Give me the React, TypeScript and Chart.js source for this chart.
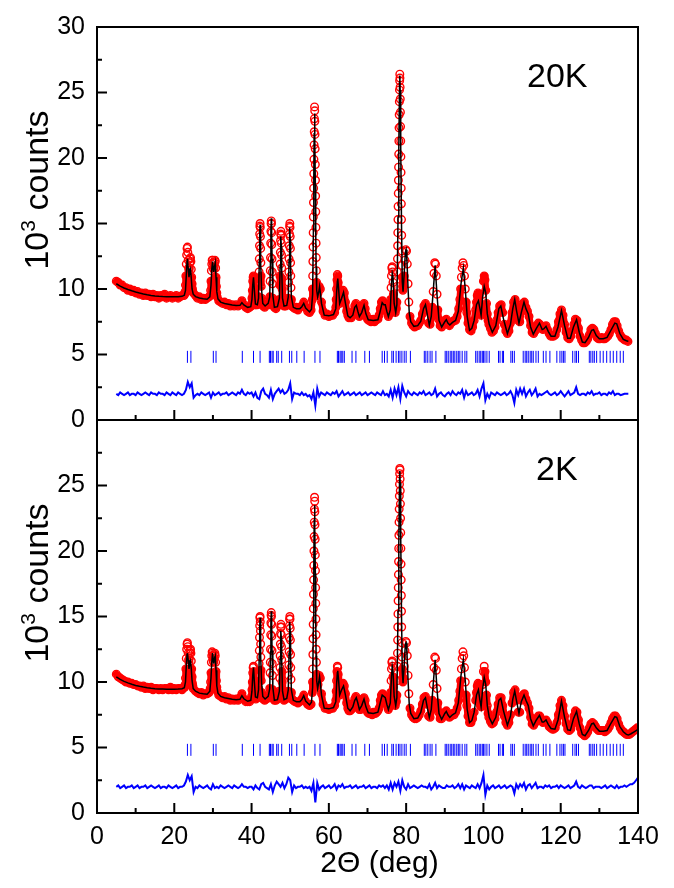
import React, { useEffect, useRef } from 'react';
import { Chart, registerables } from 'chart.js';

Chart.register(...registerables);

const FONT = "'Liberation Sans', Arial, Helvetica, sans-serif";

// ---------- observed points (red circles), shared 2-theta positions ----------
const obsTheta = [
  5.0, 5.5, 6.0, 6.5, 7.0, 7.5, 8.0, 8.5, 9.0, 9.5, 10.0, 10.5, 11.0, 11.5, 12.0, 12.5, 13.0, 13.5, 14.0, 14.5, 15.0, 15.5, 16.0, 16.5, 17.0, 17.5, 18.0, 18.5, 19.0, 19.5, 20.0, 20.5, 21.0, 21.5, 22.0, 22.5,
  22.7, 22.8, 22.9, 23.0, 23.1, 23.2, 23.3, 23.4, 23.5, 23.6, 23.7, 23.8, 23.9, 24.0, 24.1, 24.2, 24.3, 24.4, 24.5, 24.6, 24.7, 24.8, 24.9,
  25.5, 26.0, 26.5, 27.0, 27.5, 28.0, 28.5, 29.0,
  29.3, 29.4, 29.5, 29.6, 29.7, 29.8, 29.9, 30.0, 30.1, 30.2, 30.3, 30.4, 30.5, 30.6, 30.7, 30.8, 30.9, 31.0, 31.1,
  31.5, 32.0, 32.5, 33.0, 33.5, 34.0, 34.5, 35.0, 35.5, 36.0, 36.5, 37.0, 37.5, 38.0, 38.5, 39.0, 39.5,
  39.9, 40.0, 40.1, 40.2, 40.3, 40.4, 40.5, 40.6, 40.7, 40.8, 40.9, 41.0, 41.1,
  41.5,
  41.7, 41.8, 41.9, 41.95, 42.0, 42.05, 42.1, 42.15, 42.2, 42.25, 42.3, 42.35, 42.4, 42.45, 42.5, 42.6, 42.7,
  43.0, 43.4, 43.8, 44.2,
  44.6, 44.7, 44.8, 44.85, 44.9, 44.95, 45.0, 45.05, 45.1, 45.15, 45.2, 45.25, 45.3, 45.35, 45.4, 45.5, 45.6,
  45.9, 46.3, 46.7,
  47.1, 47.2, 47.3, 47.35, 47.4, 47.45, 47.5, 47.55, 47.6, 47.65, 47.7, 47.75, 47.8, 47.85, 47.9, 48.0, 48.1,
  48.4, 48.8, 49.1,
  49.4, 49.5, 49.6, 49.65, 49.7, 49.75, 49.8, 49.85, 49.9, 49.95, 50.0, 50.05, 50.1, 50.15, 50.2, 50.3, 50.4,
  50.8, 51.2, 51.6, 52.0, 52.5, 53.0, 53.5, 54.0, 54.5, 55.0, 55.4,
  55.74, 55.78, 55.82, 55.86, 55.90, 55.94, 55.98, 56.02, 56.06, 56.10, 56.14, 56.18, 56.22, 56.26, 56.30, 56.34, 56.38, 56.42, 56.46, 56.50, 56.54, 56.58, 56.62, 56.66, 56.70, 56.74, 56.78, 56.84, 56.90, 56.98,
  57.2, 57.5, 57.8, 58.1, 58.5, 59.0, 59.5, 60.0, 60.5, 61.0, 61.5,
  61.8, 61.9, 62.0, 62.1, 62.2, 62.3, 62.4, 62.5, 62.6, 62.7, 62.8,
  63.1, 63.4, 63.7, 64.0, 64.3, 64.6, 64.9, 65.2, 65.5, 65.8, 66.1, 66.4, 66.7, 67.0, 67.3, 67.6, 67.9, 68.2, 68.5, 68.8, 69.1, 69.4, 69.7, 70.0, 70.3, 70.6, 70.9, 71.2, 71.5, 71.8, 72.1, 72.4, 72.7, 73.0, 73.3, 73.6, 73.9, 74.2, 74.5, 74.8, 75.1, 75.4, 75.7,
  75.9, 76.0, 76.1, 76.2, 76.3, 76.4, 76.5, 76.6, 76.7, 76.8, 76.9,
  77.2, 77.45,
  77.60, 77.66, 77.72, 77.76, 77.80, 77.84, 77.88, 77.92, 77.96, 78.00, 78.04, 78.08, 78.12, 78.16, 78.20, 78.24, 78.28, 78.32, 78.36, 78.40, 78.44, 78.48, 78.52, 78.56, 78.60, 78.64, 78.68, 78.72, 78.76, 78.80, 78.85, 78.90, 78.95, 79.00, 79.08, 79.16,
  79.3, 79.5, 79.7, 79.9, 80.1, 80.3, 80.5, 80.7,
  81.0, 81.4, 81.8, 82.2, 82.6, 83.0, 83.4, 83.8, 84.2, 84.6, 85.0, 85.4, 85.8, 86.2, 86.6,
  86.8, 87.0, 87.2, 87.4, 87.6, 87.8, 88.0, 88.2, 88.4,
  88.8, 89.2, 89.6, 90.0, 90.4, 90.8, 91.2, 91.6, 92.0, 92.4, 92.8, 93.2, 93.6,
  93.9, 94.1, 94.3, 94.5, 94.7, 94.9, 95.1, 95.3, 95.5, 95.7,
  96.0, 96.4, 96.8, 97.2, 97.6, 98.0,
  98.2, 98.4, 98.6, 98.8, 99.0, 99.2, 99.4, 99.6, 99.8, 100.0, 100.2, 100.4, 100.6, 100.8, 101.0, 101.2, 101.4,
  101.8, 102.2, 102.6, 103.0, 103.4, 103.8, 104.2, 104.6, 105.0, 105.4,
  105.8, 106.2, 106.6, 107.0, 107.4, 107.8, 108.2, 108.6, 109.0, 109.4,
  109.8, 110.2, 110.6, 111.0, 111.4, 111.8, 112.2, 112.6, 113.0, 113.4,
  113.8, 114.2, 114.6, 115.0, 115.4, 115.8, 116.2, 116.6, 117.0, 117.4,
  117.8, 118.2, 118.6, 119.0, 119.4, 119.8, 120.2, 120.6, 121.0, 121.4,
  121.8, 122.2, 122.6, 123.0, 123.4, 123.8, 124.2, 124.6, 125.0, 125.4,
  125.8, 126.2, 126.6, 127.0, 127.4, 127.8, 128.2, 128.6, 129.0, 129.4,
  129.8, 130.2, 130.6, 131.0, 131.4, 131.8, 132.2, 132.6, 133.0, 133.4,
  133.8, 134.2, 134.6, 135.0, 135.4, 135.8, 136.2, 136.6, 137.0, 137.4,
  137.8, 138.2, 138.6, 139.0, 139.4, 139.8,
];

const obs20K = [
  10.6, 10.5, 10.3, 10.3, 10.1, 10.1, 9.9, 10.0, 9.8, 9.9, 9.7, 9.8, 9.6, 9.7, 9.5, 9.7, 9.5, 9.6, 9.4, 9.6, 9.4, 9.5, 9.3, 9.5, 9.4, 9.6, 9.3, 9.4, 9.5, 9.3, 9.4, 9.5, 9.3, 9.4, 9.5, 9.5,
  9.6, 9.8, 10.3, 11.0, 11.9, 12.6, 13.1, 13.2, 12.8, 12.2, 11.6, 11.4, 11.6, 12.0, 12.3, 12.4, 12.1, 11.5, 10.9, 10.4, 10.0, 9.8, 9.7,
  9.5, 9.3, 9.4, 9.2, 9.3, 9.2, 9.3, 9.4,
  9.5, 9.9, 10.6, 11.4, 11.9, 12.2, 12.2, 12.0, 11.6, 11.5, 11.7, 12.0, 12.2, 12.1, 11.6, 10.9, 10.2, 9.7, 9.4,
  9.1, 9.0, 8.9, 9.0, 8.8, 8.9, 8.7, 8.8, 8.7, 8.8, 8.7, 8.8, 9.1, 8.8, 8.6, 8.5, 8.6,
  8.7, 8.9, 9.3, 9.9, 10.6, 10.9, 11.0, 10.6, 10.0, 9.4, 9.0, 8.8, 8.8,
  8.8,
  8.9, 9.4, 10.5, 11.3, 12.3, 13.3, 14.2, 14.8, 15.0, 14.7, 14.0, 13.1, 12.0, 11.0, 10.2, 9.3, 8.9,
  8.7, 8.6, 8.8, 8.9,
  8.8, 9.4, 10.6, 11.4, 12.4, 13.5, 14.4, 15.0, 15.2, 15.0, 14.3, 13.4, 12.3, 11.3, 10.4, 9.3, 8.8,
  8.6, 8.5, 8.7,
  8.8, 9.2, 10.3, 11.0, 11.9, 12.8, 13.7, 14.2, 14.4, 14.1, 13.5, 12.6, 11.6, 10.8, 10.0, 9.2, 8.8,
  8.7, 8.7, 8.8,
  8.8, 9.3, 10.5, 11.3, 12.3, 13.3, 14.2, 14.8, 15.0, 14.7, 14.0, 13.1, 12.0, 11.0, 10.1, 9.2, 8.7,
  8.6, 8.5, 8.6, 8.4, 8.6, 8.7, 9.0, 8.6, 8.3, 8.2, 8.4,
  9.2, 10.0, 11.0, 12.1, 13.2, 14.3, 15.5, 16.6, 17.7, 18.8, 19.9, 21.0, 22.0, 23.0, 23.9, 23.6, 22.8, 21.8, 20.7, 19.5, 18.3, 17.1, 15.9, 14.7, 13.5, 12.4, 11.4, 10.5, 9.9, 9.5,
  9.7, 10.2, 10.0, 9.0, 8.3, 8.0, 8.1, 7.9, 8.0, 8.0, 8.2,
  8.6, 9.2, 10.0, 10.7, 11.1, 11.0, 10.5, 9.8, 9.2, 8.9, 8.9,
  9.3, 9.6, 9.9, 9.7, 9.0, 8.3, 8.0, 7.8, 7.9, 7.8, 8.0, 8.3, 8.7, 8.9, 8.6, 8.1, 7.9, 8.0, 8.3, 8.7, 8.9, 8.5, 8.0, 7.7, 7.6, 7.7, 7.5, 7.6, 7.7, 7.5, 7.6, 7.7, 7.7, 8.0, 8.5, 9.0, 9.1, 8.9, 8.9, 8.6, 8.2, 7.9, 8.1,
  8.5, 9.2, 10.1, 11.0, 11.6, 11.7, 11.3, 10.5, 9.6, 8.9, 8.5,
  8.2, 8.5,
  9.0, 10.2, 11.3, 12.3, 13.3, 14.3, 15.3, 16.3, 17.3, 18.3, 19.3, 20.3, 21.3, 22.3, 23.3, 24.3, 25.2, 25.9, 26.4, 26.1, 25.4, 24.5, 23.5, 22.4, 21.3, 20.1, 18.9, 17.7, 16.5, 15.3, 14.1, 12.9, 11.8, 10.9, 10.2, 9.9,
  10.2, 11.0, 12.2, 13.0, 12.9, 11.9, 10.4, 9.0,
  7.9, 7.4, 7.2, 7.1, 7.2, 7.2, 7.4, 7.6, 8.1, 8.7, 8.9, 8.4, 7.4, 7.3, 7.9,
  8.6, 9.8, 11.2, 12.0, 11.9, 11.0, 9.6, 8.4, 7.7,
  7.2, 7.1, 7.3, 7.6, 7.7, 7.4, 7.2, 7.4, 7.5, 7.6, 7.6, 7.9, 8.5,
  9.2, 10.0, 10.9, 11.6, 12.0, 11.8, 11.0, 10.0, 9.0, 8.2,
  7.4, 6.9, 6.8, 7.1, 7.6, 8.4,
  9.0, 9.5, 9.7, 9.5, 8.8, 8.1, 8.0, 8.6, 9.6, 10.6, 11.0, 10.7, 9.9, 8.9, 8.1, 7.6, 7.3,
  7.0, 6.7, 6.8, 7.1, 7.6, 8.2, 8.7, 8.8, 8.2, 7.3,
  6.8, 6.6, 6.8, 7.4, 8.2, 9.0, 9.2, 8.4, 7.6, 7.5,
  8.3, 8.9, 9.0, 8.6, 8.3, 7.9, 7.2, 6.7, 6.6, 6.8,
  7.2, 7.4, 7.3, 7.0, 6.9, 7.1, 7.2, 6.9, 6.6, 6.4,
  6.4, 6.4, 6.5, 6.9, 7.5, 8.1, 8.4, 8.0, 7.3, 6.7,
  6.3, 6.2, 6.4, 6.8, 7.3, 7.7, 7.6, 7.0, 6.4, 6.1,
  5.9, 5.9, 6.0, 6.2, 6.5, 6.9, 7.0, 6.9, 6.6, 6.3,
  6.2, 6.2, 6.3, 6.2, 6.2, 6.3, 6.4, 6.6, 6.9, 7.3,
  7.5, 7.5, 7.2, 6.8, 6.5, 6.3, 6.2, 6.1, 6.1, 6.0,
  null, null, null, null, null, null,
];

const obs2K = [
  10.6, 10.4, 10.3, 10.2, 10.1, 10.0, 10.0, 9.9, 9.9, 9.8, 9.8, 9.7, 9.7, 9.6, 9.7, 9.5, 9.6, 9.5, 9.6, 9.4, 9.5, 9.5, 9.4, 9.5, 9.4, 9.5, 9.5, 9.4, 9.6, 9.4, 9.5, 9.4, 9.5, 9.5, 9.4, 9.6,
  9.6, 9.8, 10.3, 11.0, 11.8, 12.5, 12.9, 13.0, 12.7, 12.2, 11.7, 11.5, 11.8, 12.2, 12.4, 12.5, 12.2, 11.6, 11.0, 10.4, 9.9, 9.7, 9.5,
  9.3, 9.2, 9.1, 9.2, 9.0, 9.1, 9.1, 9.2,
  9.5, 10.0, 10.7, 11.5, 12.0, 12.3, 12.2, 12.0, 11.6, 11.5, 11.8, 12.1, 12.2, 12.0, 11.5, 10.8, 10.1, 9.6, 9.3,
  9.0, 8.9, 8.8, 8.9, 8.7, 8.8, 8.6, 8.7, 8.6, 8.7, 8.6, 8.8, 9.1, 8.7, 8.5, 8.5, 8.5,
  8.7, 8.9, 9.4, 10.0, 10.7, 11.1, 11.2, 10.8, 10.1, 9.5, 9.0, 8.8, 8.7,
  8.8,
  8.9, 9.5, 10.6, 11.4, 12.4, 13.4, 14.3, 14.9, 15.0, 14.6, 13.9, 12.9, 11.9, 10.9, 10.1, 9.2, 8.8,
  8.7, 8.6, 8.7, 8.9,
  8.8, 9.5, 10.7, 11.5, 12.5, 13.6, 14.5, 15.1, 15.3, 15.0, 14.4, 13.5, 12.4, 11.4, 10.5, 9.4, 8.8,
  8.6, 8.6, 8.7,
  8.8, 9.3, 10.3, 11.1, 12.0, 12.9, 13.7, 14.2, 14.4, 14.2, 13.6, 12.7, 11.7, 10.8, 10.0, 9.2, 8.8,
  8.6, 8.7, 8.8,
  8.8, 9.3, 10.5, 11.3, 12.3, 13.4, 14.3, 14.8, 15.0, 14.8, 14.1, 13.2, 12.1, 11.1, 10.2, 9.2, 8.7,
  8.6, 8.5, 8.5, 8.4, 8.5, 8.7, 9.0, 8.5, 8.3, 8.2, 8.3,
  9.2, 10.0, 11.0, 12.1, 13.3, 14.4, 15.6, 16.7, 17.8, 18.9, 20.0, 21.1, 22.2, 23.2, 24.1, 23.8, 23.0, 22.0, 20.9, 19.7, 18.5, 17.2, 16.0, 14.8, 13.6, 12.5, 11.5, 10.6, 10.0, 9.6,
  9.8, 10.5, 10.3, 9.1, 8.3, 8.0, 8.0, 7.9, 8.0, 8.0, 8.2,
  8.6, 9.3, 10.1, 10.8, 11.2, 11.1, 10.6, 9.9, 9.3, 9.0, 9.0,
  9.4, 9.7, 9.9, 9.7, 9.1, 8.4, 8.0, 7.8, 7.8, 7.9, 8.0, 8.4, 8.7, 8.9, 8.7, 8.1, 7.9, 7.9, 8.3, 8.7, 8.8, 8.6, 8.0, 7.7, 7.6, 7.6, 7.6, 7.5, 7.7, 7.6, 7.6, 7.7, 7.8, 8.0, 8.6, 9.0, 9.1, 9.0, 8.9, 8.5, 8.2, 7.9, 8.1,
  8.5, 9.2, 10.1, 11.0, 11.5, 11.6, 11.2, 10.4, 9.6, 8.9, 8.5,
  8.2, 8.5,
  9.0, 10.1, 11.2, 12.2, 13.2, 14.2, 15.2, 16.2, 17.2, 18.2, 19.2, 20.2, 21.2, 22.2, 23.2, 24.2, 25.1, 25.9, 26.3, 26.2, 25.5, 24.6, 23.6, 22.5, 21.4, 20.2, 19.0, 17.8, 16.6, 15.4, 14.2, 13.0, 11.9, 11.0, 10.3, 10.0,
  10.3, 11.2, 12.4, 13.1, 13.0, 12.0, 10.5, 9.1,
  8.0, 7.5, 7.3, 7.2, 7.2, 7.3, 7.5, 7.8, 8.3, 8.8, 8.9, 8.3, 7.4, 7.3, 7.9,
  8.6, 9.8, 11.1, 11.9, 11.8, 10.9, 9.5, 8.4, 7.7,
  7.2, 7.2, 7.4, 7.7, 7.8, 7.5, 7.3, 7.4, 7.6, 7.5, 7.7, 8.0, 8.6,
  9.3, 10.1, 11.0, 11.8, 12.3, 12.0, 11.1, 10.0, 9.0, 8.2,
  7.4, 6.9, 6.9, 7.2, 7.7, 8.6,
  9.2, 9.7, 9.9, 9.6, 8.9, 8.2, 8.1, 8.7, 9.8, 10.8, 11.2, 10.8, 10.0, 9.0, 8.2, 7.6, 7.3,
  7.0, 6.8, 6.9, 7.2, 7.7, 8.3, 8.8, 8.8, 8.2, 7.4,
  6.9, 6.7, 6.9, 7.5, 8.4, 9.2, 9.4, 8.6, 7.7, 7.7,
  8.6, 9.0, 9.1, 8.7, 8.4, 8.0, 7.3, 6.8, 6.7, 6.9,
  7.2, 7.4, 7.4, 7.1, 6.9, 7.0, 7.1, 6.9, 6.6, 6.5,
  6.4, 6.4, 6.5, 6.9, 7.5, 8.2, 8.6, 8.2, 7.4, 6.8,
  6.4, 6.3, 6.4, 6.8, 7.4, 7.8, 7.7, 7.1, 6.5, 6.1,
  6.0, 5.9, 6.0, 6.2, 6.5, 6.8, 6.9, 6.8, 6.6, 6.4,
  6.3, 6.3, 6.3, 6.3, 6.2, 6.3, 6.4, 6.6, 6.9, 7.2,
  7.4, 7.4, 7.2, 6.8, 6.5, 6.3, 6.2, 6.1, 6.0, 6.0,
  6.0, 6.1, 6.2, 6.3, 6.4, 6.5,
];

// ---------- calculated profile (black line) ----------
const calcTheta = [
  5, 6, 7, 8, 9, 10, 11, 12, 13, 14,
  15, 16, 17, 18, 19, 20, 21, 22, 22.6, 22.9,
  23.1, 23.3, 23.4, 23.6, 23.8, 24.0, 24.2, 24.4, 24.6, 24.9,
  25.5, 26.5, 27.5, 28.5, 29.2, 29.5, 29.7, 29.9, 30.1, 30.2,
  30.4, 30.6, 30.8, 31.0, 31.3, 32.0, 33.0, 34.0, 35.0, 36.0,
  37.0, 37.5, 38.0, 39.0, 39.8, 40.1, 40.3, 40.5, 40.7, 41.0,
  41.5, 41.8, 42.0, 42.1, 42.2, 42.3, 42.4, 42.6, 42.9, 43.5,
  44.3, 44.7, 44.9, 45.0, 45.1, 45.2, 45.3, 45.5, 45.9, 46.7,
  47.2, 47.4, 47.5, 47.6, 47.7, 47.8, 48.0, 48.4, 49.1, 49.5,
  49.7, 49.8, 49.9, 50.0, 50.1, 50.3, 50.8, 51.6, 52.5, 53.0,
  53.5, 54.0, 55.0, 55.5, 55.8, 56.0, 56.1, 56.2, 56.3, 56.4,
  56.5, 56.6, 56.7, 56.85, 57.1, 57.4, 57.6, 57.8, 58.1, 58.8,
  60.0, 61.2, 61.8, 62.0, 62.2, 62.3, 62.5, 62.8, 63.3, 63.8,
  64.3, 64.9, 65.5, 66.2, 66.7, 67.1, 67.5, 67.9, 68.5, 69.1,
  69.6, 70.2, 71.5, 72.7, 73.2, 73.8, 74.2, 74.6, 75.0, 75.4,
  75.9, 76.2, 76.4, 76.6, 76.9, 77.3, 77.6, 77.9, 78.1, 78.3,
  78.36, 78.45, 78.6, 78.8, 79.0, 79.2, 79.5, 79.8, 80.0, 80.2,
  80.5, 80.8, 81.2, 82.0, 83.0, 83.8, 84.5, 85.0, 85.5, 86.0,
  86.5, 87.0, 87.5, 88.0, 88.5, 89.2, 90.0, 90.4, 90.8, 91.3,
  92.0, 92.8, 93.5, 94.2, 94.8, 95.3, 95.8, 96.4, 97.0, 97.6,
  98.2, 98.7, 99.1, 99.4, 99.8, 100.2, 100.6, 101.0, 101.5, 102.3,
  103.2, 104.0, 104.5, 105.2, 106.2, 107.0, 107.6, 108.1, 108.6, 109.2,
  109.8, 110.5, 111.0, 111.6, 112.2, 112.9, 113.7, 114.5, 115.2, 115.6,
  116.2, 116.8, 117.5, 118.5, 119.3, 120.2, 121.0, 121.8, 122.5, 123.3,
  124.1, 124.8, 125.6, 126.3, 127.2, 128.0, 128.5, 129.2, 130.0, 131.0,
  132.0, 133.0, 134.0, 134.5, 135.3, 136.2, 137.0, 137.5, 138.2, 139.0,
  139.8,
];

const calc20K = [
  10.40, 10.22, 10.08, 9.96, 9.86, 9.77, 9.69, 9.62, 9.56, 9.51,
  9.47, 9.44, 9.42, 9.41, 9.40, 9.40, 9.41, 9.44, 9.52, 9.9,
  11.0, 12.1, 12.3, 11.6, 10.9, 11.3, 11.5, 10.8, 10.0, 9.6,
  9.42, 9.32, 9.25, 9.22, 9.4, 10.3, 11.5, 12.1, 11.5, 11.3,
  11.7, 12.0, 10.9, 9.8, 9.25, 9.0, 8.9, 8.84, 8.78, 8.74,
  8.75, 8.95, 8.78, 8.6, 8.65, 9.2, 10.3, 10.9, 10.0, 8.85,
  8.8, 9.3, 12.1, 14.0, 14.9, 14.0, 12.0, 9.9, 8.9, 8.7,
  8.9, 9.4, 12.2, 14.4, 15.4, 14.4, 12.3, 9.5, 8.6, 8.65,
  9.3, 11.8, 13.5, 14.0, 13.3, 11.5, 9.3, 8.7, 8.75, 9.4,
  12.2, 14.0, 14.7, 13.8, 11.8, 9.4, 8.6, 8.5, 8.5, 8.65,
  8.9, 8.55, 8.25, 8.45, 9.6, 14.5, 18.5, 21.9, 23.4, 21.6,
  18.0, 14.4, 11.7, 9.9, 9.4, 9.8, 10.2, 9.7, 8.9, 8.0,
  7.95, 8.05, 8.5, 9.7, 10.6, 10.8, 10.1, 8.9, 9.3, 9.75,
  8.9, 7.95, 7.8, 8.0, 8.6, 8.75, 8.3, 7.9, 8.2, 8.75,
  8.1, 7.65, 7.6, 7.65, 8.2, 8.95, 8.8, 8.8, 8.3, 7.9,
  8.4, 10.4, 11.2, 10.9, 8.9, 8.2, 8.8, 15.5, 20.7, 25.8,
  26.3, 25.2, 20.8, 15.0, 10.6, 9.8, 11.2, 12.8, 13.0, 12.2,
  10.0, 8.2, 7.5, 7.15, 7.2, 7.55, 8.5, 8.8, 8.0, 7.25,
  7.9, 9.8, 11.8, 9.5, 7.6, 7.1, 7.5, 7.65, 7.4, 7.25,
  7.45, 7.6, 8.3, 10.4, 11.6, 10.0, 7.9, 6.85, 7.0, 7.6,
  8.8, 9.1, 8.5, 8.0, 9.4, 10.2, 9.7, 8.1, 7.3, 6.7,
  7.2, 8.5, 8.7, 7.7, 6.6, 7.3, 8.5, 9.2, 8.3, 7.4,
  8.2, 9.0, 8.5, 8.1, 7.1, 6.55, 7.0, 7.4, 6.9, 6.95,
  7.15, 6.75, 6.4, 6.4, 7.1, 8.35, 7.2, 6.25, 6.25, 7.1,
  7.65, 6.7, 5.95, 5.9, 6.3, 6.85, 6.9, 6.45, 6.2, 6.2,
  6.3, 6.85, 7.4, 7.35, 6.6, 6.15, 6.05, 6.0, null, null,
  null,
];

const calc2K = [
  10.40, 10.20, 10.05, 9.93, 9.83, 9.74, 9.67, 9.61, 9.56, 9.52,
  9.49, 9.47, 9.46, 9.45, 9.45, 9.45, 9.46, 9.49, 9.56, 10.0,
  11.2, 12.1, 12.2, 11.7, 11.0, 11.4, 11.6, 11.0, 10.1, 9.5,
  9.3, 9.15, 9.1, 9.06, 9.3, 10.3, 11.5, 12.2, 11.6, 11.4,
  11.8, 12.0, 10.9, 9.7, 9.15, 8.9, 8.8, 8.74, 8.68, 8.64,
  8.68, 8.95, 8.72, 8.53, 8.6, 9.3, 10.5, 11.1, 10.1, 8.85,
  8.8, 9.4, 12.2, 14.1, 14.9, 14.0, 12.0, 9.9, 8.9, 8.7,
  8.9, 9.5, 12.3, 14.5, 15.4, 14.5, 12.4, 9.6, 8.6, 8.65,
  9.3, 11.8, 13.4, 13.9, 13.4, 11.6, 9.3, 8.65, 8.75, 9.4,
  12.2, 14.0, 14.6, 13.9, 11.9, 9.4, 8.6, 8.5, 8.5, 8.65,
  8.95, 8.55, 8.25, 8.45, 9.6, 14.6, 18.6, 22.0, 23.5, 21.8,
  18.3, 14.7, 12.0, 10.1, 9.5, 10.0, 10.4, 9.9, 9.0, 8.0,
  7.95, 8.05, 8.5, 9.8, 10.7, 10.85, 10.2, 9.0, 9.4, 9.7,
  9.0, 8.0, 7.8, 8.1, 8.6, 8.8, 8.4, 7.9, 8.2, 8.7,
  8.1, 7.65, 7.6, 7.7, 8.3, 9.0, 8.9, 8.8, 8.3, 7.9,
  8.4, 10.4, 11.2, 10.8, 8.9, 8.2, 8.8, 15.4, 20.6, 25.6,
  26.1, 25.2, 21.0, 15.2, 10.8, 9.9, 11.3, 12.9, 13.0, 12.3,
  10.1, 8.3, 7.6, 7.2, 7.25, 7.7, 8.6, 8.8, 8.0, 7.3,
  7.9, 9.8, 11.7, 9.4, 7.6, 7.15, 7.6, 7.75, 7.5, 7.3,
  7.5, 7.65, 8.4, 10.5, 11.7, 10.1, 7.9, 6.9, 7.05, 7.7,
  9.0, 9.4, 8.6, 8.1, 9.5, 10.35, 9.8, 8.2, 7.3, 6.8,
  7.3, 8.6, 8.75, 7.8, 6.7, 7.4, 8.7, 9.3, 8.5, 7.6,
  8.5, 9.0, 8.6, 8.2, 7.2, 6.65, 7.1, 7.45, 6.95, 6.95,
  7.1, 6.75, 6.45, 6.4, 7.1, 8.55, 7.3, 6.35, 6.3, 7.2,
  7.75, 6.8, 6.0, 5.9, 6.3, 6.8, 6.85, 6.5, 6.25, 6.25,
  6.3, 6.85, 7.35, 7.3, 6.6, 6.2, 6.0, 5.95, 6.05, 6.2,
  6.35,
];

// ---------- difference curves (blue), sampled every 0.5 deg from 5 deg ----------
const diffStart = 5;
const diffStep = 0.5;

const diff20K = [
  2.0, 1.9, 2.1, 2.0, 1.9, 2.0, 2.1, 1.9, 2.0, 2.0,
  1.9, 2.1, 2.0, 1.9, 2.0, 2.1, 2.0, 1.9, 2.1, 2.0,
  2.0, 1.9, 2.1, 2.0, 2.0, 1.9, 2.1, 2.0, 1.9, 2.1,
  2.0, 1.9, 2.1, 2.0, 1.9, 2.0, 2.3, 2.9, 2.5, 2.8,
  1.7, 1.9, 2.0, 1.9, 2.1, 2.0, 1.9, 2.0, 2.1, 1.7,
  2.1, 1.9, 2.0, 2.1, 1.9, 2.0, 2.0, 2.1, 1.9, 2.0,
  2.1, 2.0, 1.9, 2.1, 2.0, 2.3, 2.0, 1.9, 2.1, 2.0,
  2.1, 1.8, 2.1, 1.7, 1.6, 2.2, 2.4, 2.0, 1.9, 1.7,
  2.3, 1.6, 2.0, 2.2, 2.4, 2.1, 2.3, 2.0, 2.1, 2.3,
  2.8, 1.6, 2.1, 2.0, 2.0, 1.9, 2.1, 1.9, 2.0, 1.8,
  1.9, 1.6, 2.1, 1.1, 2.4, 1.8, 2.1, 2.0, 1.9, 2.1,
  2.0, 1.9, 2.1, 2.0, 2.2, 1.8, 2.0, 2.2, 1.9, 2.0,
  2.1, 1.9, 2.0, 2.1, 1.9, 2.0, 2.1, 1.9, 2.0, 2.1,
  1.9, 2.0, 2.1, 2.0, 1.9, 2.1, 2.0, 1.9, 2.2, 1.9,
  2.0, 1.8, 2.3, 1.7, 2.4, 1.9, 2.5, 1.6, 2.6, 2.1,
  1.8, 2.2, 2.0, 1.9, 2.1, 2.0, 1.9, 2.1, 2.0, 2.2,
  1.9, 2.0, 2.1, 1.9, 2.0, 2.4, 1.8, 2.0, 2.1, 1.9,
  1.8, 2.0, 2.1, 1.9, 2.2, 2.0, 1.9, 2.1, 2.0, 2.3,
  1.7, 2.2, 1.9, 2.0, 2.1, 1.9, 2.0, 2.3, 1.8, 2.4,
  2.8, 1.5, 2.0, 1.7, 2.1, 2.0, 1.9, 2.1, 2.0, 1.9,
  2.0, 2.1, 1.9, 2.0, 2.2, 1.9, 1.3, 2.3, 1.9, 2.4,
  2.0, 2.4, 1.8, 2.1, 2.3, 1.9, 2.1, 2.4, 1.8, 2.0,
  1.9, 2.0, 2.1, 2.2, 2.0, 1.9, 2.0, 2.1, 1.9, 2.0,
  2.2, 2.0, 1.8, 2.0, 2.2, 1.9, 2.0, 2.1, 2.5, 2.0,
  1.9, 2.0, 2.0, 1.9, 2.1, 2.0, 2.2, 1.9, 2.0, 2.0,
  2.1, 1.9, 2.0, 2.0, 1.9, 2.1, 2.0, 2.2, 1.9, 2.0,
  2.0, 1.9, 1.95, 2.0, 2.0, 2.0, null, null, null, null,
  null,
];

const diff2K = [
  2.0, 2.1, 1.9, 2.0, 2.1, 1.9, 2.0, 2.0, 2.1, 1.9,
  2.0, 2.1, 1.9, 2.0, 2.0, 2.1, 1.9, 2.0, 2.1, 2.0,
  1.9, 2.0, 2.1, 1.9, 2.0, 2.0, 1.9, 2.1, 2.0, 1.9,
  2.0, 2.1, 1.9, 2.0, 2.0, 2.1, 2.4, 2.9, 2.5, 2.8,
  1.6, 2.0, 1.9, 2.1, 2.0, 1.9, 2.0, 2.1, 1.9, 1.8,
  2.2, 1.9, 2.0, 1.9, 2.1, 2.0, 1.9, 2.0, 2.1, 2.0,
  1.9, 2.1, 2.0, 1.9, 2.0, 2.2, 2.0, 2.0, 1.9, 2.0,
  2.0, 1.8, 2.1, 1.9, 1.8, 2.2, 2.3, 2.0, 1.9, 1.8,
  2.2, 1.6, 2.1, 2.4, 2.2, 2.0, 2.3, 1.9, 2.2, 2.7,
  2.5, 1.6, 2.1, 1.9, 2.0, 2.0, 2.1, 1.9, 2.0, 1.9,
  2.0, 1.7, 2.3, 0.8, 2.3, 1.8, 2.0, 2.1, 1.9, 2.0,
  2.1, 1.9, 2.0, 2.2, 1.8, 2.1, 2.0, 2.2, 1.9, 2.0,
  2.0, 2.1, 1.9, 2.0, 2.1, 1.9, 2.0, 2.0, 2.1, 1.9,
  2.0, 2.1, 1.9, 2.0, 2.0, 1.9, 2.1, 2.0, 2.1, 1.9,
  2.1, 1.8, 2.3, 1.8, 2.3, 2.0, 2.4, 1.7, 2.5, 2.0,
  1.8, 2.2, 1.9, 2.0, 2.1, 2.0, 1.9, 2.0, 2.1, 2.0,
  2.0, 1.9, 2.2, 1.8, 2.0, 2.3, 1.9, 2.1, 2.0, 1.9,
  1.9, 2.1, 2.0, 2.0, 2.1, 1.9, 2.0, 2.2, 1.9, 2.2,
  1.8, 2.1, 2.0, 1.9, 2.1, 2.0, 1.9, 2.2, 1.9, 2.3,
  2.9, 1.4, 2.1, 1.8, 2.0, 2.1, 1.9, 2.0, 2.1, 1.9,
  2.0, 2.1, 1.9, 2.0, 2.1, 2.0, 1.5, 2.2, 1.9, 2.2,
  2.0, 2.3, 1.8, 2.1, 2.2, 1.9, 2.1, 2.3, 1.9, 2.0,
  2.0, 1.9, 2.1, 2.0, 2.1, 1.9, 2.0, 2.0, 2.1, 1.9,
  2.1, 2.0, 1.9, 2.0, 2.1, 1.9, 2.0, 2.1, 2.4, 2.0,
  1.9, 2.1, 2.0, 1.9, 2.0, 2.1, 2.1, 1.9, 2.0, 2.0,
  2.0, 1.9, 2.0, 2.1, 1.9, 2.0, 2.1, 2.0, 1.9, 2.1,
  1.9, 2.0, 2.0, 2.1, 2.0, 2.1, 2.2, 2.2, 2.3, 2.5,
  2.7,
];

// ---------- Bragg reflection positions (blue ticks) ----------
const braggTheta = [
  23.4, 24.3, 30.1, 30.8, 37.6, 40.5, 42.2, 44.6, 44.9, 45.3, 45.6, 46.5, 46.9, 47.8, 49.8, 50.4, 51.7, 53.6, 56.4, 57.7,
  62.2, 62.5, 62.9, 63.2, 63.6, 64.0, 66.0, 67.0, 69.3, 70.5, 73.8, 74.4, 75.1, 76.3, 76.7, 77.4, 78.0, 78.4, 78.9, 79.5,
  80.0, 81.1, 84.7, 85.1, 85.6, 86.2, 86.7, 87.7, 90.1, 90.5, 90.9, 91.4, 91.8, 92.2, 92.6, 93.1, 93.5, 93.9, 94.5, 95.2,
  95.7, 98.0, 98.4, 98.9, 99.3, 99.7, 100.0, 100.4, 100.9, 101.5, 103.9, 104.3, 104.9, 105.2, 107.1, 107.5, 108.0, 110.3, 110.8, 111.2,
  111.6, 112.1, 112.5, 112.9, 113.6, 114.2, 115.5, 116.2, 117.2, 119.0, 119.8, 120.3, 120.7, 121.1, 123.1, 123.7, 124.1, 124.6, 127.4, 127.8,
  128.3, 128.7, 129.3, 130.2, 131.0, 131.9, 132.8, 133.6, 134.5, 135.4, 136.2,
];
const braggLevel = 4.82;

// ---------- axes & labels ----------
const panelLabels = ['20K', '2K'];
const yTitleBase = '10';
const yTitleSup = '3';
const yTitleRest = ' counts';
const xTitle = '2\u0398 (deg)';
const xMin = 0, xMax = 140, xMajor = 20, xMinor = 10;
const yMin = 0, yMax = 30, yMajor = 5, yMinor = 2.5;

type P = { x: number; y: number };
const toPoints = (xs: number[], ys: (number | null)[]): P[] => {
  const out: P[] = [];
  xs.forEach((x, i) => {
    const v = ys[i];
    if (v !== null && v !== undefined) out.push({ x, y: v });
  });
  return out;
};
const diffPoints = (vals: (number | null)[]): P[] => {
  const out: P[] = [];
  vals.forEach((v, i) => {
    if (v !== null && v !== undefined) out.push({ x: diffStart + i * diffStep, y: v });
  });
  return out;
};
const braggPoints = (): P[] => braggTheta.map((x) => ({ x, y: braggLevel }));

const RED = '#ff0000';
const BLUE = '#0000ff';
const CLEAR = 'rgba(0,0,0,0)';
const STEEP_PX = 11.5;   // segments steeper than this show open circles only
const BAND_TOP = 11;     // above this level the peaks show open circles only

function panelDatasets(axis: string, obs: (number | null)[], calc: (number | null)[], diff: (number | null)[]) {
  const obsPts = toPoints(obsTheta, obs);
  return [
    {
      label: 'calc ' + axis,
      data: toPoints(calcTheta, calc),
      yAxisID: axis,
      showLine: true,
      borderColor: '#000000',
      borderWidth: 1.5,
      pointRadius: 0,
      order: 0,
    },
    {
      label: 'obs ' + axis,
      data: obsPts,
      yAxisID: axis,
      showLine: false,
      pointStyle: 'circle',
      pointRadius: 3.8,
      pointBorderWidth: 1.4,
      borderColor: RED,
      pointBorderColor: RED,
      backgroundColor: CLEAR,
      pointBackgroundColor: CLEAR,
      order: 1,
    },
    {
      // dense run of overlapping observed circles forms a solid red band
      // along the background; on peaks the circles stay open
      label: 'obs band ' + axis,
      data: obsPts,
      yAxisID: axis,
      showLine: true,
      borderColor: RED,
      borderWidth: 7,
      borderJoinStyle: 'round',
      borderCapStyle: 'round',
      pointRadius: 0,
      segment: {
        borderColor: (c: any) => {
          const a = obsPts[c.p0DataIndex];
          const b = obsPts[c.p1DataIndex];
          const high = (a && a.y > BAND_TOP) || (b && b.y > BAND_TOP);
          return high || Math.abs(c.p1.y - c.p0.y) > STEEP_PX ? CLEAR : RED;
        },
      },
      order: 2,
    },
    {
      label: 'diff ' + axis,
      data: diffPoints(diff),
      yAxisID: axis,
      showLine: true,
      borderColor: BLUE,
      borderWidth: 2,
      pointRadius: 0,
      order: 3,
    },
    {
      label: 'bragg ' + axis,
      data: braggPoints(),
      yAxisID: axis,
      showLine: false,
      pointStyle: 'line',
      pointRotation: 90,
      pointRadius: 6,
      pointBorderWidth: 1,
      borderColor: BLUE,
      pointBorderColor: BLUE,
      order: 4,
    },
  ];
}

const decorations = {
  id: 'decorations',
  afterDraw(chart: any) {
    const { ctx } = chart;
    const xs = chart.scales.x;
    const panels = [chart.scales.yTop, chart.scales.yBot];
    const left = xs.left;
    const right = xs.right;
    ctx.save();
    ctx.strokeStyle = '#000';
    ctx.fillStyle = '#000';
    ctx.lineWidth = 2;
    panels.forEach((ys: any, p: number) => {
      const top = ys.top;
      const bottom = ys.bottom;
      ctx.beginPath();
      ctx.rect(left, top, right - left, bottom - top);
      ctx.stroke();
      ctx.beginPath();
      for (let v = yMin + yMinor; v < yMax; v += yMinor) {
        const y = ys.getPixelForValue(v);
        const len = Math.abs(v % yMajor) < 1e-6 ? 10 : 5;
        ctx.moveTo(left, y);
        ctx.lineTo(left + len, y);
      }
      for (let d = xMin + xMinor; d < xMax; d += xMinor) {
        const x = xs.getPixelForValue(d);
        const len = Math.abs(d % xMajor) < 1e-6 ? 10 : 5;
        ctx.moveTo(x, bottom);
        ctx.lineTo(x, bottom - len);
      }
      ctx.stroke();

      // panel label
      ctx.font = `34px ${FONT}`;
      ctx.textAlign = 'left';
      ctx.textBaseline = 'alphabetic';
      ctx.fillText(panelLabels[p], p === 0 ? 527 : 536, top + 60);

      // y title with superscript
      ctx.save();
      ctx.translate(48, top + 163);
      ctx.rotate(-Math.PI / 2);
      ctx.font = `34px ${FONT}`;
      const w1 = ctx.measureText(yTitleBase).width;
      const w3 = ctx.measureText(yTitleRest).width;
      ctx.font = `21px ${FONT}`;
      const w2 = ctx.measureText(yTitleSup).width;
      const sx = -(w1 + w2 + w3) / 2;
      ctx.font = `34px ${FONT}`;
      ctx.fillText(yTitleBase, sx, 0);
      ctx.font = `21px ${FONT}`;
      ctx.fillText(yTitleSup, sx + w1, -13);
      ctx.font = `34px ${FONT}`;
      ctx.fillText(yTitleRest, sx + w1 + w2, 0);
      ctx.restore();
    });
    ctx.font = `30px ${FONT}`;
    ctx.textAlign = 'center';
    ctx.textBaseline = 'alphabetic';
    ctx.fillText(xTitle, (left + right) / 2 + 12, 872);
    ctx.restore();
  },
};

const tickFont = { family: FONT, size: 25 };

export default function App() {
  const ref = useRef<HTMLCanvasElement>(null);
  useEffect(() => {
    if (!ref.current) return;
    const datasets: any[] = [
      ...panelDatasets('yTop', obs20K, calc20K, diff20K),
      ...panelDatasets('yBot', obs2K, calc2K, diff2K),
    ];
    const chart = new Chart(ref.current, {
      type: 'scatter',
      data: { datasets },
      options: {
        responsive: false,
        animation: false,
        devicePixelRatio: 1,
        events: [],
        layout: { padding: { top: 21, right: 36, bottom: 0, left: 0 } },
        plugins: {
          legend: { display: false },
          tooltip: { enabled: false },
        },
        scales: {
          x: {
            type: 'linear',
            position: 'bottom',
            min: xMin,
            max: xMax,
            grid: { display: false, drawTicks: false },
            border: { display: false },
            ticks: {
              stepSize: xMajor,
              padding: 9,
              maxRotation: 0,
              autoSkip: false,
              color: '#000',
              font: tickFont,
            },
            afterFit: (s: any) => {
              s.height = 75;
            },
          },
          yBot: {
            type: 'linear',
            axis: 'y',
            position: 'left',
            stack: 'panels',
            stackWeight: 1,
            weight: 1,
            min: yMin,
            max: yMax,
            grid: { display: false, drawTicks: false },
            border: { display: false },
            ticks: {
              stepSize: yMajor,
              padding: 12,
              autoSkip: false,
              color: '#000',
              font: tickFont,
              callback: (v: any) => (v === yMax ? '' : String(v)),
            },
            afterFit: (s: any) => {
              s.width = 97;
            },
          },
          yTop: {
            type: 'linear',
            axis: 'y',
            position: 'left',
            stack: 'panels',
            stackWeight: 1,
            weight: 2,
            min: yMin,
            max: yMax,
            grid: { display: false, drawTicks: false },
            border: { display: false },
            ticks: {
              stepSize: yMajor,
              padding: 12,
              autoSkip: false,
              color: '#000',
              font: tickFont,
            },
            afterFit: (s: any) => {
              s.width = 97;
            },
          },
        } as any,
      },
      plugins: [decorations],
    });
    return () => chart.destroy();
  }, []);

  return (
    <div style={{ position: 'fixed', left: 0, top: 0, width: 674, height: 888, background: '#ffffff' }}>
      <canvas ref={ref} width={674} height={888} style={{ display: 'block', width: 674, height: 888 }} />
    </div>
  );
}
